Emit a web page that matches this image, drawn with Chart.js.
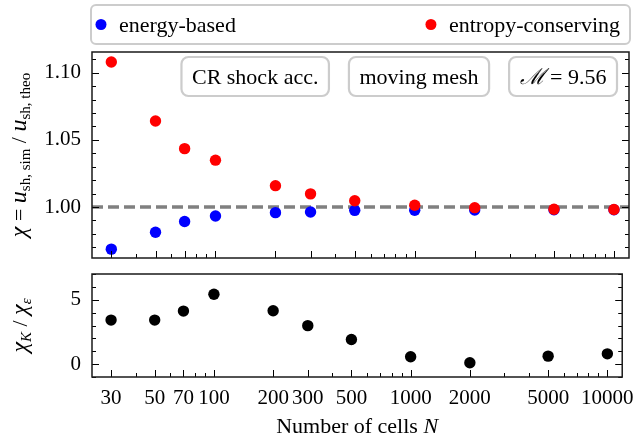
<!DOCTYPE html>
<html>
<head>
<meta charset="utf-8">
<script src="https://cdn.jsdelivr.net/npm/chart.js@4.4.1/dist/chart.umd.min.js"></script>
<style>
  html, body { margin: 0; padding: 0; background: #fff; }
  #wrap { position: relative; width: 643px; height: 442px; }
  #wrap canvas { position: absolute; left: 0; top: 0; }
</style>
</head>
<body>
<div id="wrap">
  <canvas id="upper" width="643" height="442"></canvas>
  <canvas id="lower" width="643" height="442"></canvas>
</div>
<script>
// Resolution study: number of cells and shock-speed ratios
const cells = [30, 50, 70, 100, 200, 300, 500, 1000, 2000, 5000, 10000];
const energyBased = [0.9686, 0.9812, 0.9892, 0.9933, 0.9958, 0.9963, 0.9975, 0.9976, 0.9977, 0.9979, 0.9979];
const entropyConserving = [1.1080, 1.0641, 1.0435, 1.0349, 1.0159, 1.0098, 1.0047, 1.0013, 0.9995, 0.9983, 0.9981];
const errorRatio = [3.42, 3.42, 4.12, 5.43, 4.15, 2.99, 1.91, 0.57, 0.11, 0.62, 0.80];

const xTicks = [30, 50, 70, 100, 200, 300, 500, 1000, 2000, 5000, 10000];
const yTicksUpper = [1.00, 1.05, 1.10];
const yTicksLower = [0, 5];
const seriesNames = ['energy-based', 'entropy-conserving'];
const panelNotes = ['CR shock acc.', 'moving mesh', '\u2133 = 9.56'];

const SERIF = '"Liberation Serif", "DejaVu Serif", serif';
const X_MIN = 24, X_MAX = 11900;

function font(size, italic) {
  return (italic ? 'italic ' : '') + size + 'px ' + SERIF;
}

// draw a run of text pieces (italic / subscript) one after another
function drawRich(ctx, segs, x, y) {
  let total = 0;
  segs.forEach(s => { ctx.font = font(s.size || 22, s.i); s.w = ctx.measureText(s.t).width; total += s.w; });
  let cx = x - total / 2;
  ctx.textAlign = 'left';
  ctx.textBaseline = 'alphabetic';
  segs.forEach(s => {
    ctx.font = font(s.size || 22, s.i);
    ctx.fillText(s.t, cx, y + (s.dy || 0));
    cx += s.w;
  });
}

function roundRect(ctx, x, y, w, h, r) {
  ctx.beginPath();
  ctx.moveTo(x + r, y);
  ctx.lineTo(x + w - r, y);
  ctx.arcTo(x + w, y, x + w, y + r, r);
  ctx.lineTo(x + w, y + h - r);
  ctx.arcTo(x + w, y + h, x + w - r, y + h, r);
  ctx.lineTo(x + r, y + h);
  ctx.arcTo(x, y + h, x, y + h - r, r);
  ctx.lineTo(x, y + r);
  ctx.arcTo(x, y, x + r, y, r);
  ctx.closePath();
}

// minor tick values for the log x axis
function logMinor() {
  const out = [];
  for (let d = 10; d <= 10000; d *= 10) {
    for (let m = 1; m <= 9; m++) {
      const v = m * d;
      if (v >= X_MIN && v <= X_MAX && !xTicks.includes(v)) out.push(v);
    }
  }
  return out;
}

function linMinor(min, max, step) {
  const out = [];
  const start = Math.ceil(min / step - 1e-9);
  for (let k = start; k * step <= max + 1e-9; k++) out.push(+(k * step).toFixed(6));
  return out;
}

// frame plus inward ticks on left, right and bottom
function framePlugin(yMajor, yMinorStep) {
  return {
    id: 'frame',
    afterDatasetsDraw(chart) {
      const { ctx, chartArea: a, scales } = chart;
      const xs = scales.x, ys = scales.y;
      ctx.save();
      ctx.strokeStyle = '#000';
      ctx.lineWidth = 1;
      const tick = (x1, y1, x2, y2) => { ctx.beginPath(); ctx.moveTo(x1, y1); ctx.lineTo(x2, y2); ctx.stroke(); };
      xTicks.forEach(v => { const px = Math.round(xs.getPixelForValue(v)) + 0.5; tick(px, a.bottom, px, a.bottom - 7); });
      logMinor().forEach(v => { const px = Math.round(xs.getPixelForValue(v)) + 0.5; tick(px, a.bottom, px, a.bottom - 4); });
      const minors = linMinor(ys.min, ys.max, yMinorStep);
      minors.forEach(v => {
        const py = Math.round(ys.getPixelForValue(v)) + 0.5;
        const major = yMajor.some(m => Math.abs(m - v) < 1e-6);
        const len = major ? 7 : 4;
        tick(a.left, py, a.left + len, py);
        tick(a.right, py, a.right - len, py);
      });
      ctx.lineWidth = 1.5;
      ctx.strokeStyle = '#1a1a1a';
      ctx.strokeRect(a.left, a.top, a.right - a.left, a.bottom - a.top);
      ctx.restore();
    }
  };
}

const upperDecor = {
  id: 'upperDecor',
  beforeDatasetsDraw(chart) {
    const { ctx, chartArea: a, scales } = chart;
    const py = scales.y.getPixelForValue(1.0);
    ctx.save();
    ctx.strokeStyle = '#808080';
    ctx.lineWidth = 3.5;
    ctx.setLineDash([11, 5]);
    ctx.beginPath();
    ctx.moveTo(a.left, py);
    ctx.lineTo(a.right, py);
    ctx.stroke();
    ctx.restore();
  },
  afterDraw(chart) {
    const { ctx, chartArea: a } = chart;
    ctx.save();
    // legend
    const lx = a.left - 1, ly = 5, lw = a.right - a.left + 2, lh = 39;
    roundRect(ctx, lx, ly, lw, lh, 5);
    ctx.fillStyle = '#fff';
    ctx.fill();
    ctx.strokeStyle = '#cccccc';
    ctx.lineWidth = 2;
    ctx.stroke();
    const ds = chart.data.datasets;
    const blue = ds.find(d => d.label === seriesNames[0]);
    const red = ds.find(d => d.label === seriesNames[1]);
    ctx.font = font(22);
    ctx.textBaseline = 'alphabetic';
    ctx.textAlign = 'left';
    const cy = ly + lh / 2;
    ctx.fillStyle = blue.backgroundColor;
    ctx.beginPath(); ctx.arc(lx + 10, cy, 5.5, 0, Math.PI * 2); ctx.fill();
    ctx.fillStyle = '#000';
    ctx.fillText(blue.label, lx + 28, cy + 7);
    const rw = ctx.measureText(red.label).width;
    const rx = lx + lw - 10 - rw;
    ctx.fillStyle = red.backgroundColor;
    ctx.beginPath(); ctx.arc(rx - 18, cy, 5.5, 0, Math.PI * 2); ctx.fill();
    ctx.fillStyle = '#000';
    ctx.fillText(red.label, rx, cy + 7);

    // note boxes, chained from the right edge
    let right = a.right - 12;
    const top = a.top + 5, h = 39;
    for (let k = panelNotes.length - 1; k >= 0; k--) {
      const txt = panelNotes[k];
      const isMach = txt.startsWith('\u2133');
      let w;
      if (isMach) {
        ctx.font = font(22, true);
        const w1 = ctx.measureText('\u2133').width;
        ctx.font = font(22);
        const w2 = ctx.measureText(txt.slice(1)).width;
        w = w1 + w2;
      } else {
        ctx.font = font(22);
        w = ctx.measureText(txt).width;
      }
      const bw = w + 21;
      const bx = right - bw;
      roundRect(ctx, bx, top, bw, h, 7);
      ctx.fillStyle = '#fff';
      ctx.fill();
      ctx.strokeStyle = '#cccccc';
      ctx.lineWidth = 2.2;
      ctx.stroke();
      ctx.fillStyle = '#000';
      if (isMach) {
        drawRich(ctx, [{ t: '\u2133', i: true }, { t: txt.slice(1) }], bx + bw / 2, top + h / 2 + 7);
      } else {
        ctx.font = font(22);
        ctx.textAlign = 'center';
        ctx.fillText(txt, bx + bw / 2, top + h / 2 + 7);
      }
      right = bx - 20;
    }

    // y-axis title
    ctx.save();
    ctx.translate(26, (a.top + a.bottom) / 2);
    ctx.rotate(-Math.PI / 2);
    ctx.fillStyle = '#000';
    drawRich(ctx, [
      { t: '\u03C7', i: true, size: 24 }, { t: ' = ', size: 22 },
      { t: 'u', i: true, size: 24 }, { t: 'sh, sim', size: 15, dy: 4 },
      { t: ' / ', size: 22 },
      { t: 'u', i: true, size: 24 }, { t: 'sh, theo', size: 15, dy: 4 }
    ], 0, 0);
    ctx.restore();
    ctx.restore();
  }
};

const lowerDecor = {
  id: 'lowerDecor',
  afterDraw(chart) {
    const { ctx, chartArea: a } = chart;
    ctx.save();
    ctx.fillStyle = '#000';
    drawRich(ctx, [{ t: 'Number of cells ' }, { t: 'N', i: true }], (a.left + a.right) / 2, 433);
    ctx.translate(27, (a.top + a.bottom) / 2);
    ctx.rotate(-Math.PI / 2);
    drawRich(ctx, [
      { t: '\u03C7', i: true, size: 24 }, { t: 'K', i: true, size: 15, dy: 4 },
      { t: ' / ', size: 22 },
      { t: '\u03C7', i: true, size: 24 }, { t: '\u03B5', i: true, size: 15, dy: 4 }
    ], 0, 0);
    ctx.restore();
  }
};

function xScale(showLabels, height) {
  return {
    type: 'logarithmic',
    min: X_MIN, max: X_MAX,
    grid: { display: false, drawTicks: false },
    border: { display: false },
    ticks: {
      display: showLabels, autoSkip: false, maxRotation: 0, minRotation: 0,
      padding: 9, color: '#000', font: { family: SERIF, size: 21 },
      callback: v => String(v)
    },
    afterBuildTicks: s => { s.ticks = xTicks.map(v => ({ value: v })); },
    afterFit: s => { s.height = height; }
  };
}

function yScale(min, max, ticks, digits) {
  return {
    type: 'linear',
    min, max,
    grid: { display: false, drawTicks: false },
    border: { display: false },
    ticks: {
      padding: 11, color: '#000', font: { family: SERIF, size: 21 },
      callback: v => Number(v).toFixed(digits)
    },
    afterBuildTicks: s => { s.ticks = ticks.map(v => ({ value: v })); },
    afterFit: s => { s.width = 92; }
  };
}

const points = ys => cells.map((c, i) => ({ x: c, y: ys[i] }));

new Chart(document.getElementById('upper'), {
  type: 'scatter',
  data: {
    datasets: [
      { label: seriesNames[0], data: points(energyBased), backgroundColor: '#0000ff', pointRadius: 5.7, pointBorderWidth: 0, order: 2 },
      { label: seriesNames[1], data: points(entropyConserving), backgroundColor: '#ff0000', pointRadius: 5.7, pointBorderWidth: 0, order: 1 }
    ]
  },
  options: {
    responsive: false, animation: false, devicePixelRatio: 1,
    layout: { padding: { left: 0, top: 52, right: 14, bottom: 184 } },
    plugins: { legend: { display: false }, tooltip: { enabled: false } },
    scales: { x: xScale(false, 0), y: yScale(0.962, 1.1155, yTicksUpper, 2) }
  },
  plugins: [upperDecor, framePlugin(yTicksUpper, 0.01)]
});

new Chart(document.getElementById('lower'), {
  type: 'scatter',
  data: {
    datasets: [
      { label: 'ratio', data: points(errorRatio), backgroundColor: '#000000', pointRadius: 5.7, pointBorderWidth: 0 }
    ]
  },
  options: {
    responsive: false, animation: false, devicePixelRatio: 1,
    layout: { padding: { left: 0, top: 274, right: 14, bottom: 0 } },
    plugins: { legend: { display: false }, tooltip: { enabled: false } },
    scales: { x: xScale(true, 65), y: yScale(-1, 7, yTicksLower, 0) }
  },
  plugins: [lowerDecor, framePlugin(yTicksLower, 1)]
});
</script>
</body>
</html>
